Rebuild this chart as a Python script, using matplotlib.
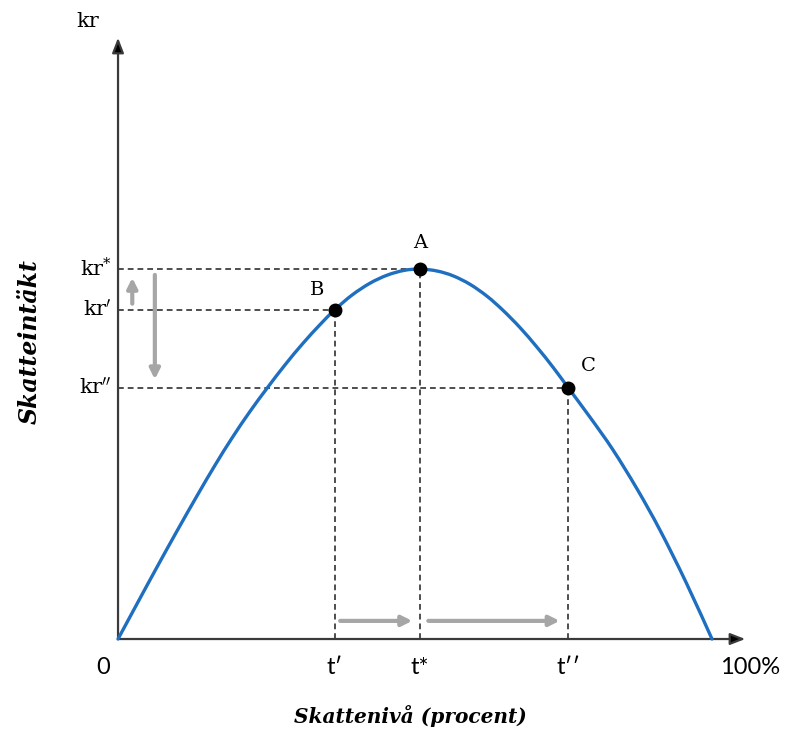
import matplotlib
matplotlib.use("Agg")
import matplotlib.pyplot as plt
from matplotlib.path import Path
from matplotlib.patches import PathPatch

plt.rcParams["mathtext.fontset"] = "dejavuserif"

# ---- data (tax rate in %, revenue index with peak = 100) ----
tax_rate = [0, 3.20, 6.57, 9.93, 13.30, 16.33, 19.19, 22.22, 25.08, 28.11, 31.14, 34.01, 36.53,
            39.39, 42.42, 45.29, 48.15, 50.84, 53.70, 56.40, 59.26, 62.12, 64.81, 67.68, 70.54,
            73.23, 75.76, 79.46, 83.33, 87.37, 91.25, 95.62, 100]
revenue = [0, 9.51, 19.46, 29.19, 38.70, 46.97, 54.32, 61.51, 67.76, 74.08, 79.92, 84.97, 89.03,
           92.95, 96.16, 98.32, 99.62, 100, 99.46, 98.16, 95.86, 92.65, 88.84, 84.16, 78.86,
           73.46, 67.97, 59.95, 51.11, 40.59, 29.41, 15.35, 0]

point_names = ["B", "A", "C"]
point_t = [36.5, 50.84, 75.76]
point_kr = [89.03, 100.0, 67.97]
t_labels = ["t\u2032", "t*", "t\u2032\u2032"]
kr_labels = [r"kr$^{\prime}$", r"kr$^{*}$", r"kr$^{\prime\prime}$"]

x_end = 105.6   # arrow tip of x axis
y_end = 162.5   # arrow tip of y axis

SERIF = ["DejaVu Serif"]
SANS = ["Lato", "DejaVu Sans"]

fig = plt.figure(figsize=(7.85, 7.31), dpi=100)
ax = fig.add_axes([0, 0, 1, 1])
ax.set_xlim(-19.87, 112.29)
ax.set_ylim(-24.86, 172.7)
ax.axis("off")

axis_col = "#3a3a3a"
ahead = dict(arrowstyle="-|>,head_length=0.9,head_width=0.35", color=axis_col,
             lw=1.6, shrinkA=0, shrinkB=0, fc="black")
ax.annotate("", xy=(x_end, 0), xytext=(0, 0), arrowprops=ahead)
ax.annotate("", xy=(0, y_end), xytext=(0, 0), arrowprops=ahead)

# dashed guides
dash = (0, (3.2, 2.2))
for t, kr in zip(point_t, point_kr):
    ax.plot([0, t], [kr, kr], color="#404040", lw=1.3, linestyle=dash, zorder=2)
    ax.plot([t, t], [0, kr], color="#404040", lw=1.3, linestyle=dash, zorder=2)

# smooth curve through the read points (Catmull-Rom rendered as cubic Beziers)
pts = list(zip(tax_rate, revenue))
verts = [pts[0]]
codes = [Path.MOVETO]
n = len(pts)
for i in range(n - 1):
    p0 = pts[i - 1] if i > 0 else pts[i]
    p1 = pts[i]
    p2 = pts[i + 1]
    p3 = pts[i + 2] if i + 2 < n else pts[i + 1]
    c1 = (p1[0] + (p2[0] - p0[0]) / 6, p1[1] + (p2[1] - p0[1]) / 6)
    c2 = (p2[0] - (p3[0] - p1[0]) / 6, p2[1] - (p3[1] - p1[1]) / 6)
    verts += [c1, c2, p2]
    codes += [Path.CURVE4] * 3
ax.add_patch(PathPatch(Path(verts, codes), fill=False, edgecolor="#1f6fc0", lw=2.4,
                       zorder=3, capstyle="round"))

# points
ax.plot(point_t, point_kr, "o", color="black", ms=9, zorder=4)

# point labels
ax.text(point_t[1], point_kr[1] + 7.0, "A", ha="center", va="center", fontsize=14, family=SERIF)
ax.text(point_t[0] - 2.9, point_kr[0] + 5.4, "B", ha="center", va="center", fontsize=14, family=SERIF)
ax.text(point_t[2] + 3.4, point_kr[2] + 5.8, "C", ha="center", va="center", fontsize=14, family=SERIF)

# y labels
for kr, lab in zip(point_kr, kr_labels):
    ax.text(-1.0, kr, lab, ha="right", va="center", fontsize=15, family=SERIF)
ax.text(-5.1, 166.8, "kr", ha="center", va="center", fontsize=15, family=SERIF)

# x labels
for t, lab in zip(point_t, t_labels):
    ax.text(t, -7.8, lab, ha="center", va="center", fontsize=17, family=SANS)
ax.text(-2.5, -7.8, "0", ha="center", va="center", fontsize=17, family=SANS)
ax.text(106.4, -7.8, "100%", ha="center", va="center", fontsize=17, family=SANS)

# gray movement arrows
gray = "#a6a6a6"
aprops = dict(arrowstyle="-|>,head_length=0.6,head_width=0.3", color=gray, lw=3,
              shrinkA=0, shrinkB=0)
ax.annotate("", xy=(2.4, point_kr[0] + 8.6), xytext=(2.4, point_kr[0] + 1.6), arrowprops=aprops)
ax.annotate("", xy=(6.2, point_kr[2] + 2.2), xytext=(6.2, point_kr[1] - 1.6), arrowprops=aprops)
ax.annotate("", xy=(point_t[1] - 1.3, 4.9), xytext=(point_t[0] + 0.9, 4.9), arrowprops=aprops)
ax.annotate("", xy=(point_t[2] - 1.4, 4.9), xytext=(point_t[1] + 1.4, 4.9), arrowprops=aprops)

# axis titles
ax.text(49.2, -20.8, "Skattenivå (procent)", ha="center", va="center", fontsize=14.5,
        family=SERIF, style="italic", weight="bold")
ax.text(-14.8, 80.5, "Skatteintäkt", ha="center", va="center", fontsize=17, rotation=90,
        family=SERIF, style="italic", weight="bold")

fig.savefig("out.png", dpi=100)
